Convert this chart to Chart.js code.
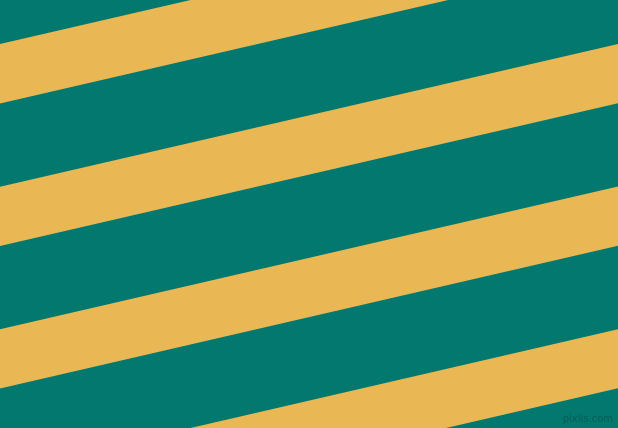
<!DOCTYPE html>
<html lang="en">
<head>
    <meta charset="UTF-8">
    <title>Diagonal Stripes</title>
    <script src="https://cdn.jsdelivr.net/npm/chart.js"></script>
    <style>
        html, body { margin: 0; padding: 0; overflow: hidden; }
        #wrap { width: 618px; height: 428px; position: relative; }
        canvas { background: #02786E; }
    </style>
</head>
<body>
    <div id="wrap"><canvas id="stripes"></canvas></div>
    <script>
        // x positions of the two ends of each stripe edge
        const edgeX = [0, 618];
        // yellow stripe edges (pixels from the top) at the left and right ends
        const bandTopLeft = [44, 186.7, 329.3, 472];
        const bandBottomLeft = [103.5, 246, 388.5, 531];
        const bandTopRight = [-98.7, 44, 186.6, 329.3];
        const bandBottomRight = [-39.2, 103.3, 245.8, 388.3];
        const watermark = 'pixlis.com';

        const yellow = '#E9B854';
        const datasets = [];
        bandTopLeft.forEach((t, i) => {
            datasets.push({
                data: [{ x: edgeX[0], y: t }, { x: edgeX[1], y: bandTopRight[i] }],
                borderWidth: 0, pointRadius: 0, fill: false
            });
            datasets.push({
                data: [{ x: edgeX[0], y: bandBottomLeft[i] }, { x: edgeX[1], y: bandBottomRight[i] }],
                borderWidth: 0, pointRadius: 0, fill: '-1', backgroundColor: yellow
            });
        });

        const markPlugin = {
            id: 'mark',
            afterDraw(chart) {
                const c = chart.ctx;
                c.save();
                c.font = '10px "DejaVu Sans", sans-serif';
                c.fillStyle = 'rgba(0, 40, 36, 0.35)';
                c.textAlign = 'right';
                c.textBaseline = 'alphabetic';
                c.fillText(watermark, 613, 422);
                c.restore();
            }
        };

        new Chart(document.getElementById('stripes'), {
            type: 'line',
            data: { datasets: datasets },
            options: {
                responsive: true,
                maintainAspectRatio: false,
                animation: false,
                layout: { padding: 0 },
                plugins: { legend: { display: false }, tooltip: { enabled: false } },
                scales: {
                    x: { type: 'linear', min: 0, max: 618, display: false },
                    y: { min: 0, max: 428, reverse: true, display: false }
                }
            },
            plugins: [markPlugin]
        });
    </script>
</body>
</html>
